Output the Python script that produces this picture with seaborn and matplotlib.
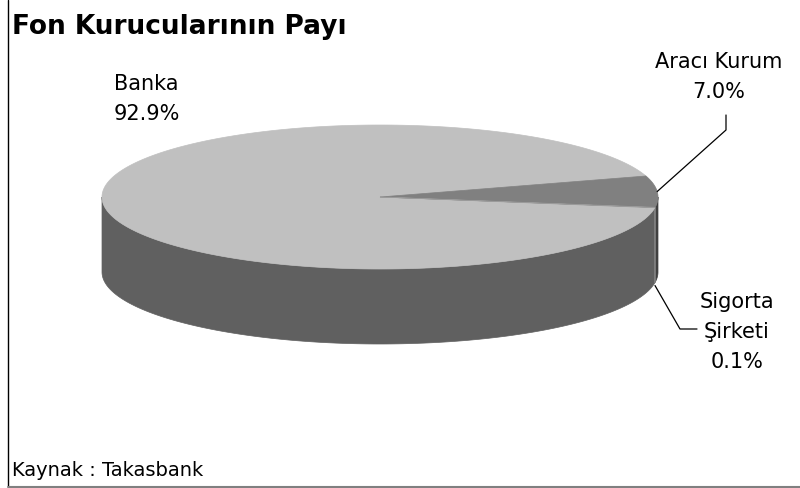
import numpy as np
import matplotlib
matplotlib.use("Agg")
import matplotlib.pyplot as plt
import seaborn as sns
from matplotlib.patches import Polygon

# ---- data ----
categories = ["Banka", "Aracı Kurum", "Sigorta\nŞirketi"]
shares = [92.9, 7.0, 0.1]
title = "Fon Kurucularının Payı"
source = "Kaynak : Takasbank"

# ---- style ----
top_colors = ["#c0c0c0", "#808080", "#9a9a9a"]
side_colors = ["#606060", "#404040", "#8a8a8a"]
CX, CY = 380.0, 197.0     # centre of top ellipse (px)
RX, RY = 278.0, 72.0      # radii (px)
DEPTH = 75.0              # thickness (px)
START = -8.6              # start angle (deg), slices go clockwise

sns.set_style("white")
plt.rcParams["font.family"] = ["DejaVu Sans"]
plt.rcParams["text.color"] = "black"

fig = plt.figure(figsize=(8.0, 4.88), dpi=100)
ax = fig.add_axes([0, 0, 1, 1])
ax.set_xlim(0, 800)
ax.set_ylim(488, 0)
ax.axis("off")


def pt(theta_deg, dz=0.0):
    t = np.deg2rad(theta_deg)
    return CX + RX * np.cos(t), CY - RY * np.sin(t) + dz


total = sum(shares)
bounds = []
a = START
for v in shares:
    b = a - 360.0 * v / total
    bounds.append((a, b))
    a = b

# sides (visible front half)
for (a1, a2), col in zip(bounds, side_colors):
    hi, lo = max(a1, a2), min(a1, a2)
    for shift in (0, 360, -360):
        h, l = hi + shift, lo + shift
        vh, vl = min(h, 0.0), max(l, -180.0)
        if vh > vl:
            th = np.linspace(vh, vl, 200)
            xs, ys = pt(th)
            xb, yb = pt(th[::-1], DEPTH)
            poly = np.column_stack([np.r_[xs, xb], np.r_[ys, yb]])
            ax.add_patch(Polygon(poly, closed=True, facecolor=col,
                                 edgecolor=col, lw=0.5, zorder=2))

# top faces
for (a1, a2), col in zip(bounds, top_colors):
    th = np.linspace(a1, a2, 400)
    xs, ys = pt(th)
    poly = np.column_stack([np.r_[CX, xs], np.r_[CY, ys]])
    ax.add_patch(Polygon(poly, closed=True, facecolor=col, edgecolor=col,
                         lw=0.5, zorder=3))

labels = [f"{c}\n{v:.1f}%" for c, v in zip(categories, shares)]
lab_fs = 15.0
ls = 1.6
ax.text(114, 99, labels[0], ha="left", va="center", fontsize=lab_fs,
        linespacing=ls, color="black", zorder=5)
ax.text(719, 77, labels[1], ha="center", va="center", fontsize=lab_fs,
        linespacing=ls, color="black", zorder=5)
ax.text(737, 332, labels[2], ha="center", va="center", fontsize=lab_fs,
        linespacing=ls, color="black", zorder=5)

# leader lines
mid1 = (bounds[1][0] + bounds[1][1]) / 2
x1, y1 = pt(mid1)
ax.plot([726, 726, x1], [115, 130, y1], color="black", lw=0.9, zorder=6)
mid2 = (bounds[2][0] + bounds[2][1]) / 2
x2, y2 = pt(mid2, DEPTH)
ax.plot([x2, 680, 697], [y2 + 3, 329, 329], color="black", lw=0.9, zorder=6)

# title and source
ax.text(12, 27, title, ha="left", va="center", fontsize=19,
        fontweight="bold", color="black", zorder=5)
ax.text(12, 470, source, ha="left", va="center", fontsize=14,
        color="black", zorder=5)

# frame
ax.plot([8, 8], [0, 486], color="black", lw=1.0, zorder=6)
ax.plot([8, 800], [486.5, 486.5], color="#808080", lw=1.5, zorder=6)

fig.savefig("out.png", dpi=100, facecolor="white")
